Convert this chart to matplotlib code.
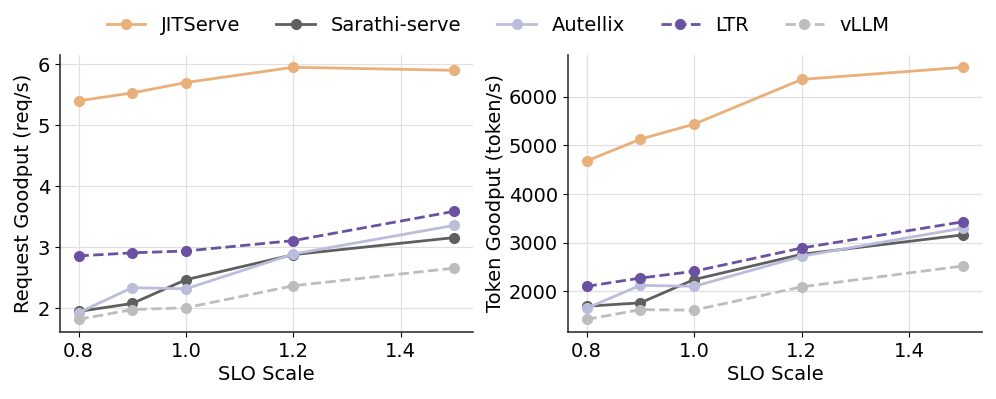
import numpy as np
import matplotlib.pyplot as plt

slo_scale = [0.8, 0.9, 1.0, 1.2, 1.5]

systems = ['JITServe', 'Sarathi-serve', 'Autellix', 'LTR', 'vLLM']

req_jitserve = [5.40, 5.53, 5.70, 5.95, 5.90]
req_sarathi = [1.95, 2.08, 2.47, 2.88, 3.16]
req_autellix = [1.93, 2.34, 2.32, 2.89, 3.36]
req_ltr = [2.86, 2.91, 2.94, 3.11, 3.59]
req_vllm = [1.82, 1.98, 2.01, 2.37, 2.66]

tok_jitserve = [4680, 5130, 5440, 6360, 6610]
tok_sarathi = [1690, 1760, 2240, 2760, 3160]
tok_autellix = [1650, 2120, 2100, 2720, 3300]
tok_ltr = [2100, 2270, 2410, 2890, 3430]
tok_vllm = [1420, 1620, 1610, 2090, 2520]

colors = ['#E9B07A', '#5F5F5F', '#BCBDDC', '#6A51A3', '#BDBDBD']
styles = ['-', '-', '-', '--', '--']

plt.rcParams['font.size'] = 14

fig = plt.figure(figsize=(9.96, 3.99), dpi=100)
ax1 = fig.add_axes([0.060, 0.168, 0.415, 0.695])
ax2 = fig.add_axes([0.570, 0.168, 0.416, 0.695])

panels = [
    (ax1, [req_jitserve, req_sarathi, req_autellix, req_ltr, req_vllm],
     'Request Goodput (req/s)'),
    (ax2, [tok_jitserve, tok_sarathi, tok_autellix, tok_ltr, tok_vllm],
     'Token Goodput (token/s)'),
]

for ax, series, ylabel in panels:
    for name, vals, c, ls in zip(systems, series, colors, styles):
        ax.plot(slo_scale, vals, color=c, linestyle=ls, linewidth=2,
                marker='o', markersize=7, label=name)
    ax.set_xlabel('SLO Scale', labelpad=3)
    ax.set_ylabel(ylabel, labelpad=3)
    ax.set_xticks([0.8, 1.0, 1.2, 1.4])
    ax.grid(True, color='#E0E0E0', linewidth=0.9)
    ax.set_axisbelow(True)
    for s in ['top', 'right']:
        ax.spines[s].set_visible(False)
    for s in ['left', 'bottom']:
        ax.spines[s].set_color('#333333')
        ax.spines[s].set_linewidth(1.2)

ax1.set_yticks([2, 3, 4, 5, 6])
ax2.set_yticks([2000, 3000, 4000, 5000, 6000])

handles, labels = ax1.get_legend_handles_labels()
fig.legend(handles, labels, loc='upper center', ncol=5, frameon=False,
           bbox_to_anchor=(0.5, 1.005), columnspacing=1.85, handlelength=2.0)

fig.savefig('out.png', dpi=100)
